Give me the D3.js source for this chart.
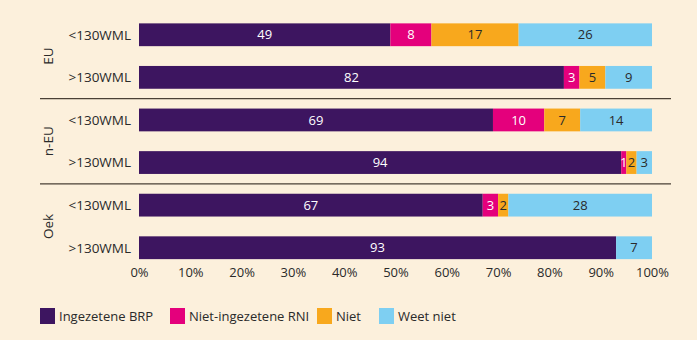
<!DOCTYPE html>
<html>
<head>
<meta charset="utf-8">
<script src="https://cdn.jsdelivr.net/npm/d3@7"></script>
<style>
  body { margin: 0; background: #fcf0dc; }
  svg { display: block; font-family: "Open Sans", "Noto Sans", sans-serif; }
</style>
</head>
<body>
<div id="chart"></div>
<script>
// data
var groups = ["EU", "n-EU", "Oek"];
var rowLabels = ["<130WML", ">130WML"];
var series = ["Ingezetene BRP", "Niet-ingezetene RNI", "Niet", "Weet niet"];
var brp  = [49, 82, 69, 94, 67, 93];
var rni  = [8, 3, 10, 1, 3, 0];
var niet = [17, 5, 7, 2, 2, 0];
var weet = [26, 9, 14, 3, 28, 7];
var ticks = [0, 10, 20, 30, 40, 50, 60, 70, 80, 90, 100];

var colors = ["#3d1560", "#e4007c", "#f8a81d", "#7ecff2"];
var textColors = ["#ffffff", "#ffffff", "#2a2a2a", "#2a2a2a"];

var W = 697, H = 340;
var svg = d3.select("#chart").append("svg")
    .attr("width", W)
    .attr("height", H);

var rows = [];
groups.forEach(function (g, gi) {
    rowLabels.forEach(function (r, ri) {
        var i = gi * 2 + ri;
        var vals = [brp[i], rni[i], niet[i], weet[i]];
        var total = d3.sum(vals);
        var acc = 0;
        var segs = vals.map(function (v, k) {
            var s = { key: k, value: v, x0: acc / total * 100, x1: (acc + v) / total * 100 };
            acc += v;
            return s;
        });
        rows.push({ id: g + "|" + r, group: g, label: r, segs: segs });
    });
});

var x = d3.scaleLinear().domain([0, 100]).range([139, 652]);
var y = d3.scaleBand()
    .domain(rows.map(function (d) { return d.id; }))
    .range([14, 268.5])
    .paddingInner(0.465)
    .paddingOuter(0.22);

// separators between groups
var sepY = [];
for (var gi = 1; gi < groups.length; gi++) {
    var a = y(groups[gi - 1] + "|" + rowLabels[1]) + y.bandwidth();
    var b = y(groups[gi] + "|" + rowLabels[0]);
    sepY.push((a + b) / 2);
}
svg.selectAll(".sep")
    .data(sepY)
    .enter().append("line")
    .attr("class", "sep")
    .attr("x1", 40).attr("x2", 671)
    .attr("y1", function (d) { return d; })
    .attr("y2", function (d) { return d; })
    .attr("stroke", "#4a4036")
    .attr("stroke-width", 1.4);

var row = svg.selectAll(".row")
    .data(rows)
    .enter().append("g")
    .attr("class", "row")
    .attr("transform", function (d) { return "translate(0," + y(d.id) + ")"; });

row.selectAll("rect")
    .data(function (d) { return d.segs.filter(function (s) { return s.value > 0; }); })
    .enter().append("rect")
    .attr("x", function (s) { return x(s.x0); })
    .attr("width", function (s) { return x(s.x1) - x(s.x0); })
    .attr("height", y.bandwidth())
    .attr("fill", function (s) { return colors[s.key]; });

row.selectAll(".val")
    .data(function (d) { return d.segs.filter(function (s) { return s.value > 0; }); })
    .enter().append("text")
    .attr("class", "val")
    .attr("x", function (s) { return (x(s.x0) + x(s.x1)) / 2; })
    .attr("y", y.bandwidth() / 2)
    .attr("dy", "0.36em")
    .attr("text-anchor", "middle")
    .attr("font-size", 13)
    .attr("fill", function (s) { return textColors[s.key]; })
    .text(function (s) { return s.value; });

row.append("text")
    .attr("x", 131)
    .attr("y", y.bandwidth() / 2)
    .attr("dy", "0.36em")
    .attr("text-anchor", "end")
    .attr("font-size", 13.5)
    .attr("fill", "#2a2a2a")
    .text(function (d) { return d.label; });

// group labels
svg.selectAll(".grp")
    .data(groups)
    .enter().append("text")
    .attr("class", "grp")
    .attr("transform", function (g) {
        var cy = (y(g + "|" + rowLabels[0]) + y(g + "|" + rowLabels[1]) + y.bandwidth()) / 2;
        return "translate(48," + cy + ") rotate(-90)";
    })
    .attr("dy", "0.36em")
    .attr("text-anchor", "middle")
    .attr("font-size", 13.5)
    .attr("fill", "#2a2a2a")
    .text(function (g) { return g; });

// x axis
var xAxis = d3.axisBottom(x)
    .tickValues(ticks)
    .tickSize(0)
    .tickPadding(0)
    .tickFormat(function (d) { return d + "%"; });

var ax = svg.append("g")
    .attr("transform", "translate(0,267.5)")
    .call(xAxis);
ax.select(".domain").remove();
ax.selectAll("text")
    .attr("font-size", 13)
    .attr("font-family", "\"Open Sans\", \"Noto Sans\", sans-serif")
    .attr("fill", "#2a2a2a");

// legend
var legendX = [40, 170, 317, 379];
var leg = svg.selectAll(".leg")
    .data(series)
    .enter().append("g")
    .attr("class", "leg")
    .attr("transform", function (d, i) { return "translate(" + legendX[i] + ",308)"; });
leg.append("rect")
    .attr("width", 15).attr("height", 16)
    .attr("fill", function (d, i) { return colors[i]; });
leg.append("text")
    .attr("x", 19)
    .attr("y", 8)
    .attr("dy", "0.36em")
    .attr("font-size", 13)
    .attr("fill", "#2a2a2a")
    .text(function (d) { return d; });
</script>
</body>
</html>
